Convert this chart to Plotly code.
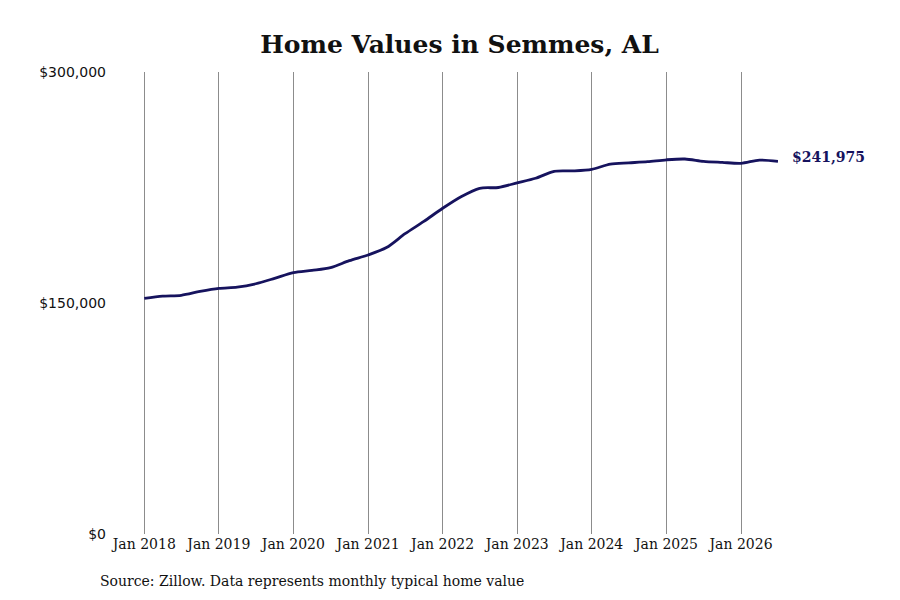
import plotly.graph_objects as go

dates = [
    "2018-01-01", "2018-04-01", "2018-07-01", "2018-10-01",
    "2019-01-01", "2019-04-01", "2019-07-01", "2019-10-01",
    "2020-01-01", "2020-04-01", "2020-07-01", "2020-10-01",
    "2021-01-01", "2021-04-01", "2021-07-01", "2021-10-01",
    "2022-01-01", "2022-04-01", "2022-07-01", "2022-10-01",
    "2023-01-01", "2023-04-01", "2023-07-01", "2023-10-01",
    "2024-01-01", "2024-04-01", "2024-07-01", "2024-10-01",
    "2025-01-01", "2025-04-01", "2025-07-01", "2025-10-01",
    "2026-01-01", "2026-04-01", "2026-07-01",
]
values = [
    153000, 154500, 155000, 157500,
    159500, 160300, 162500, 166000,
    169700, 171200, 173000, 177500,
    181200, 186000, 195000, 203000,
    211500, 219000, 224500, 225000,
    228000, 231000, 235500, 235800,
    236800, 240200, 241000, 241800,
    243000, 243500, 242000, 241300,
    240700, 242800, 241975,
]
tick_vals = ["2018-01-01", "2019-01-01", "2020-01-01", "2021-01-01", "2022-01-01",
             "2023-01-01", "2024-01-01", "2025-01-01", "2026-01-01"]
tick_text = ["Jan 2018", "Jan 2019", "Jan 2020", "Jan 2021", "Jan 2022",
             "Jan 2023", "Jan 2024", "Jan 2025", "Jan 2026"]
y_ticks = [0, 150000, 300000]
y_text = ["$0", "$150,000", "$300,000"]
title = "Home Values in Semmes, AL"
source = "Source: Zillow. Data represents monthly typical home value"
end_label = "$241,975"

navy = "#16135e"
serif = "DejaVu Serif"

fig = go.Figure()
fig.add_trace(go.Scatter(
    x=dates, y=values, mode="lines",
    line=dict(color=navy, width=2.8, shape="spline", smoothing=0.8),
    hoverinfo="skip", showlegend=False,
))

fig.add_annotation(
    x=dates[-1], y=values[-1], text=f"<b>{end_label}</b>",
    showarrow=False, xanchor="left", yanchor="middle", xshift=12, yshift=4,
    font=dict(family=serif, size=14, color=navy),
)
fig.add_annotation(
    xref="paper", yref="paper", x=-0.068, y=-0.1017, text=source,
    showarrow=False, xanchor="left", yanchor="middle",
    font=dict(family=serif, size=14, color="#111111"),
)

fig.update_layout(
    width=900, height=600,
    margin=dict(l=133, r=130, t=64, b=74),
    paper_bgcolor="white", plot_bgcolor="white",
    title=dict(text=f"<b>{title}</b>", x=0.5, xref="paper", y=0.94, yanchor="middle",
               font=dict(family=serif, size=25, color="#111111")),
    xaxis=dict(
        type="date", range=["2017-12-16", "2026-07-01"],
        tickvals=tick_vals, ticktext=tick_text,
        showgrid=True, gridcolor="#8c8c8c", gridwidth=1,
        showline=False, zeroline=False, ticks="",
        tickfont=dict(family=serif, size=14, color="#111111"),
    ),
    yaxis=dict(
        range=[0, 300000], tickvals=y_ticks, ticktext=y_text,
        showgrid=False, zeroline=False, showline=False, ticks="",
        ticklabelstandoff=34,
        tickfont=dict(family="DejaVu Sans", size=14, color="#111111"),
    ),
)

fig.write_html("out.html")
